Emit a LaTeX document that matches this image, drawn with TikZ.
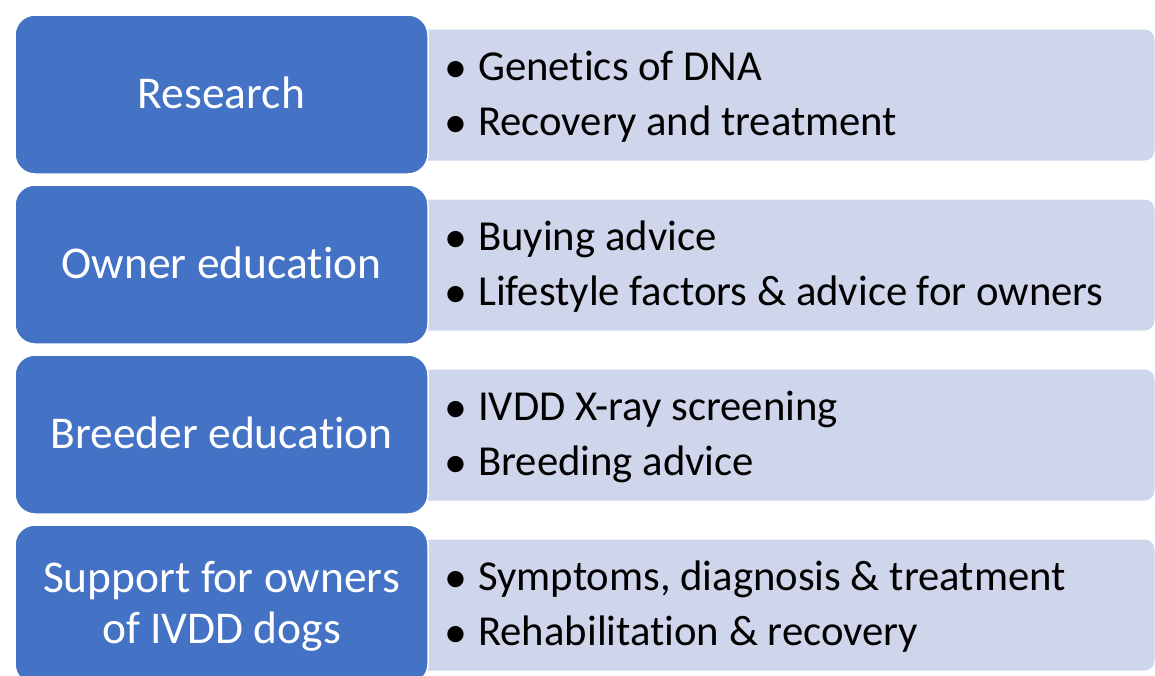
\documentclass[tikz,border=0pt]{standalone}
\usepackage{fontspec}
\setmainfont{Carlito}[Ligatures={NoCommon}]
\definecolor{mainblue}{HTML}{4472C4}
\definecolor{lightbox}{HTML}{CFD5EA}
\begin{document}
\begin{tikzpicture}[x=1pt,y=-1pt,
  head/.style={rectangle, fill=mainblue, draw=white, line width=1.5pt, rounded corners=20pt,
    minimum width=413pt, minimum height=159pt, inner sep=0pt},
  panel/.style={rectangle, fill=lightbox, draw=white, line width=1pt, rounded corners=10pt,
    minimum width=740pt, minimum height=132pt, inner sep=0pt},
  headtext/.style={text=white, font=\fontsize{45.5}{51}\selectfont, anchor=base, inner sep=0pt},
  itemtext/.style={font=\fontsize{42.7}{48}\selectfont, anchor=base west, inner sep=0pt},
  bullet/.style={font=\fontsize{46}{48}\selectfont, anchor=base west, inner sep=0pt}]
\clip (0,0) rectangle (1155,675);
\fill[white] (0,0) rectangle (1155,675);
% panels
\node[panel] (p1) at (785,95) {};
\node[panel] (p2) at (785,265) {};
\node[panel] (p3) at (785,435) {};
\node[panel] (p4) at (785,605) {};
% heads
\node[head] (h1) at (221.5,94.5) {};
\node[head] (h2) at (221.5,264.5) {};
\node[head] (h3) at (221.5,434.5) {};
\node[head] (h4) at (221.5,604.5) {};
% head texts
\node[headtext] (t1) at (221.5,108) {Research};
\node[headtext] (t2) at (221.5,278) {Owner education};
\node[headtext] (t3) at (221.5,448) {Breeder education};
\node[headtext] (t4a) at (221.5,592) {Support for owners};
\node[headtext] (t4b) at (221.5,643) {of IVDD dogs};
% bullets
\node[bullet] (b1a) at (444,82) {•};
\node[itemtext] (i1a) at (478,80) {Genetics of DNA};
\node[bullet] (b1b) at (444,137) {•};
\node[itemtext] (i1b) at (478,135) {Recovery and treatment};
\node[bullet] (b2a) at (444,252) {•};
\node[itemtext] (i2a) at (478,250) {Buying advice};
\node[bullet] (b2b) at (444,307) {•};
\node[itemtext] (i2b) at (478,305) {Lifestyle factors \& advice for owners};
\node[bullet] (b3a) at (444,422) {•};
\node[itemtext] (i3a) at (478,420) {IVDD X-ray screening};
\node[bullet] (b3b) at (444,477) {•};
\node[itemtext] (i3b) at (478,475) {Breeding advice};
\node[bullet] (b4a) at (444,592) {•};
\node[itemtext] (i4a) at (478,590) {Symptoms, diagnosis \& treatment};
\node[bullet] (b4b) at (444,647) {•};
\node[itemtext] (i4b) at (478,645) {Rehabilitation \& recovery};
\end{tikzpicture}
\end{document}
